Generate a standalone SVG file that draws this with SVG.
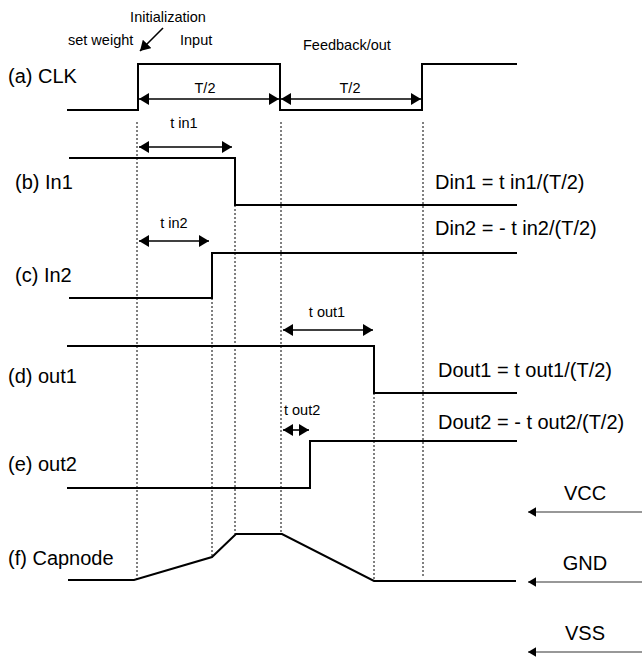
<svg xmlns="http://www.w3.org/2000/svg" width="642" height="660" viewBox="0 0 642 660">
<style>
text{font-family:"Liberation Sans",Arial,sans-serif;fill:#000}
.lbl{font-size:20px}
.eq{font-size:20px}
.sm{font-size:14.5px}
.wave{fill:none;stroke:#000;stroke-width:2}
.dot{fill:none;stroke:#000;stroke-width:1;stroke-dasharray:2,2}
.dim{fill:none;stroke:#000;stroke-width:1.6;marker-start:url(#ah);marker-end:url(#ah)}
.rail{fill:none;stroke:#333;stroke-width:1.2;marker-end:url(#ah2)}
</style>
<defs>
<marker id="ah" viewBox="0 0 10 12" refX="10" refY="6" markerWidth="10" markerHeight="12" markerUnits="userSpaceOnUse" orient="auto-start-reverse"><path d="M0,0 L10,6 L0,12 Z" fill="#000"/></marker>
<marker id="ah2" viewBox="0 0 10 12" refX="10" refY="6" markerWidth="8" markerHeight="10" markerUnits="userSpaceOnUse" orient="auto"><path d="M0,0 L10,6 L0,12 Z" fill="#000"/></marker>
</defs>
<g id="labels">
<text class="sm" x="168" y="22" text-anchor="middle">Initialization</text>
<text class="sm" x="68" y="45">set weight</text>
<text class="sm" x="180" y="45">Input</text>
<text class="sm" x="303" y="50">Feedback/out</text>
<text class="lbl" x="8" y="83">(a) CLK</text>
<text class="lbl" x="15" y="189">(b) In1</text>
<text class="lbl" x="15" y="282">(c) In2</text>
<text class="lbl" x="8" y="383">(d) out1</text>
<text class="lbl" x="8" y="471">(e) out2</text>
<text class="lbl" x="8" y="565">(f) Capnode</text>
<text class="sm" x="205" y="93" text-anchor="middle">T/2</text>
<text class="sm" x="350" y="93" text-anchor="middle">T/2</text>
<text class="sm" x="184" y="128" text-anchor="middle">t in1</text>
<text class="sm" x="174" y="228" text-anchor="middle">t in2</text>
<text class="sm" x="327" y="317" text-anchor="middle">t out1</text>
<text class="sm" x="284" y="415">t out2</text>
<text class="eq" x="435" y="189">Din1 = t in1/(T/2)</text>
<text class="eq" x="435" y="235">Din2 = - t in2/(T/2)</text>
<text class="eq" x="438" y="377">Dout1 = t out1/(T/2)</text>
<text class="eq" x="438" y="429">Dout2 = - t out2/(T/2)</text>
<text class="eq" x="585" y="500" text-anchor="middle">VCC</text>
<text class="eq" x="585" y="570" text-anchor="middle">GND</text>
<text class="eq" x="585" y="640" text-anchor="middle">VSS</text>
</g>
<g id="guides">
<line class="dot" x1="137" y1="122" x2="137" y2="580"/>
<line class="dot" x1="212" y1="298" x2="212" y2="557"/>
<line class="dot" x1="235" y1="205" x2="235" y2="534"/>
<line class="dot" x1="281" y1="122" x2="281" y2="534"/>
<line class="dot" x1="374" y1="393" x2="374" y2="581"/>
<line class="dot" x1="423" y1="122" x2="423" y2="578"/>
</g>
<g id="waves">
<polyline id="clk" class="wave" points="67,110 138,110 138,64 280,64 280,110 422,110 422,64 517,64"/>
<polyline id="in1" class="wave" points="69,158 235,158 235,205 517,205"/>
<polyline id="in2" class="wave" points="69,298 212,298 212,253 517,253"/>
<polyline id="out1" class="wave" points="67,346 374,346 374,393 517,393"/>
<polyline id="out2" class="wave" points="67,488 310,488 310,441 517,441"/>
<polyline id="capnode" class="wave" points="68,580 134,580 212,557 236,534 282,534 374,581 516,581"/>
</g>
<g id="connectors">
<line x1="163" y1="28" x2="140" y2="51" stroke="#000" stroke-width="1.6" marker-end="url(#ah)"/>
<line class="dim" x1="139" y1="99" x2="279" y2="99"/>
<line class="dim" x1="281" y1="99" x2="421" y2="99"/>
<line class="dim" x1="139" y1="147" x2="232" y2="147"/>
<line class="dim" x1="139" y1="241" x2="209" y2="241"/>
<line class="dim" x1="283" y1="330" x2="373" y2="330"/>
<line class="dim" x1="283" y1="430" x2="309" y2="430"/>
<line class="rail" x1="642" y1="512" x2="528" y2="512"/>
<line class="rail" x1="642" y1="582" x2="528" y2="582"/>
<line class="rail" x1="642" y1="652" x2="528" y2="652"/>
</g>
</svg>
